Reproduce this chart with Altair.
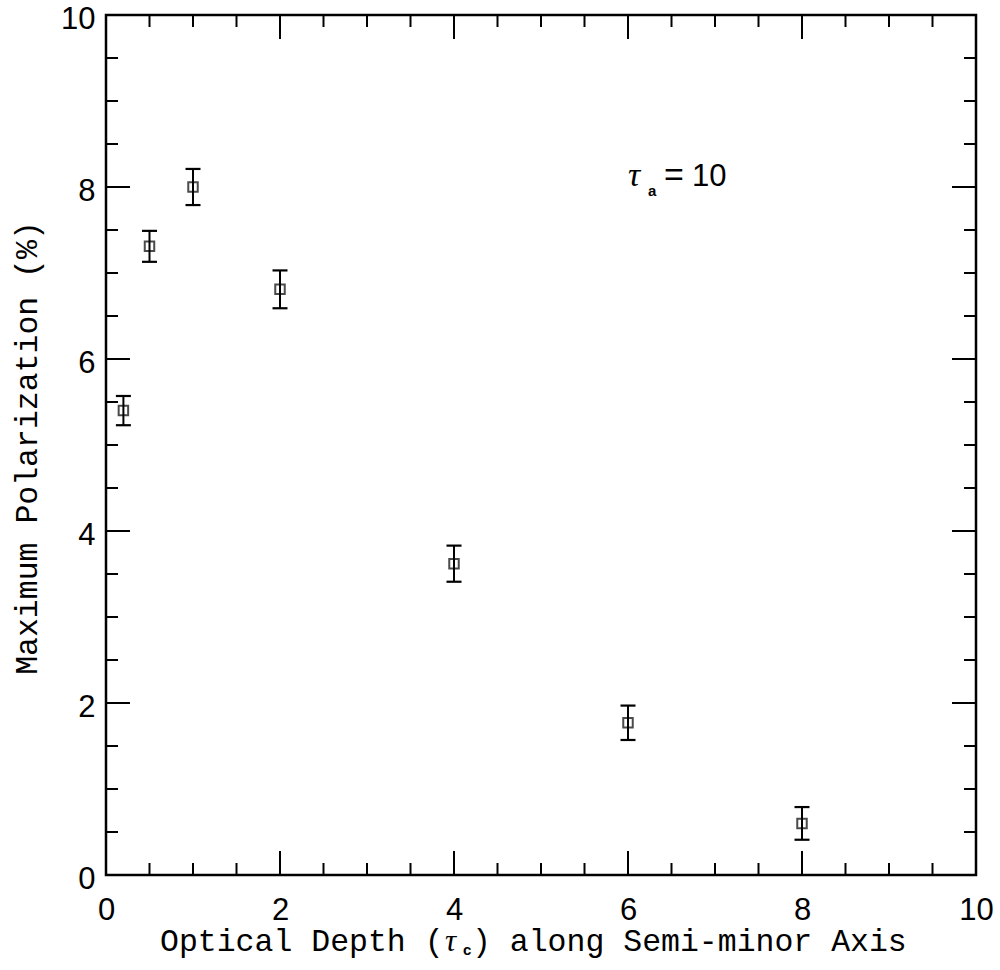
import altair as alt
import pandas as pd

# ---- data ----
tau_c = [0.2, 0.5, 1.0, 2.0, 4.0, 6.0, 8.0]
pol_max = [5.40, 7.31, 8.00, 6.81, 3.62, 1.77, 0.60]
pol_err = [0.17, 0.18, 0.21, 0.22, 0.21, 0.20, 0.19]

major_ticks = [0, 2, 4, 6, 8, 10]
minor_ticks = [0.5, 1, 1.5, 2.5, 3, 3.5, 4.5, 5, 5.5, 6.5, 7, 7.5, 8.5, 9, 9.5]

x_title_1 = "Optical Depth ("
x_title_tau = "τ"
x_title_sub = "c"
x_title_2 = ") along Semi-minor Axis"
y_title = "Maximum Polarization (%)"
ann_tau = "τ"
ann_sub = "a"
ann_eq = "="
ann_val = "10"
ann_x = [6.0]
ann_y = [8.0]

W, H = 870, 860
MONO = "Liberation Mono"
SANS = "Liberation Sans"
SERIF = "Liberation Serif"

df = pd.DataFrame({
    "x": tau_c,
    "y": pol_max,
    "lo": [v - e for v, e in zip(pol_max, pol_err)],
    "hi": [v + e for v, e in zip(pol_max, pol_err)],
})

xs = alt.Scale(domain=[0, 10], nice=False, zero=False)
ys = alt.Scale(domain=[0, 10], nice=False, zero=False)
xaxis = alt.Axis(values=major_ticks, ticks=False, domain=False, grid=False, title=None,
                 labelFont=SANS, labelFontSize=31, labelColor="black", labelPadding=20,
                 labelFlush=False, labelOverlap=False, format="d")
yaxis = alt.Axis(values=major_ticks, ticks=False, domain=False, grid=False, title=None,
                 labelFont=SANS, labelFontSize=31, labelColor="black", labelPadding=11,
                 labelOffset=4, labelFlush=False, labelOverlap=False, format="d")


def X(f="x"):
    return alt.X(f, type="quantitative", scale=xs, axis=xaxis)


def Y(f="y"):
    return alt.Y(f, type="quantitative", scale=ys, axis=yaxis)


base = alt.Chart(df)
points = base.mark_point(shape="square", filled=False, size=90, strokeWidth=2, color="black").encode(
    x=X(), y=Y())
bars = base.mark_rule(color="black", strokeWidth=2).encode(x=X(), y=Y("lo"), y2="hi")
cap_lo = base.mark_rule(color="black", strokeWidth=2.2, xOffset=-7.5, x2Offset=7.5).encode(
    x=X(), x2="x", y=Y("lo"))
cap_hi = base.mark_rule(color="black", strokeWidth=2.2, xOffset=-7.5, x2Offset=7.5).encode(
    x=X(), x2="x", y=Y("hi"))

layers = [bars, cap_lo, cap_hi, points]

# inward ticks on all four sides
for vals, ln in ((major_ticks, 24), (minor_ticks, 12)):
    td = alt.Chart(pd.DataFrame({"x": vals, "y": vals}))
    layers.append(td.mark_rule(color="black", strokeWidth=2).encode(
        x=X(), y=alt.value(H), y2=alt.value(H - ln)))
    layers.append(td.mark_rule(color="black", strokeWidth=2).encode(
        x=X(), y=alt.value(0), y2=alt.value(ln)))
    layers.append(td.mark_rule(color="black", strokeWidth=2).encode(
        y=Y(), x=alt.value(0), x2=alt.value(ln)))
    layers.append(td.mark_rule(color="black", strokeWidth=2).encode(
        y=Y(), x=alt.value(W), x2=alt.value(W - ln)))

# annotation tau_a = 10
ad = alt.Chart(pd.DataFrame({"x": ann_x, "y": ann_y}))
layers.append(ad.mark_text(font=SERIF, fontStyle="italic", fontSize=34, align="left",
                           baseline="alphabetic", dy=-1, color="black").encode(
    x=X(), y=Y(), text=alt.value(ann_tau)))
layers.append(ad.mark_text(font=SANS, fontWeight="bold", fontSize=15, align="left",
                           baseline="alphabetic", dx=20, dy=9, color="black").encode(
    x=X(), y=Y(), text=alt.value(ann_sub)))
layers.append(ad.mark_text(font=SANS, fontSize=34, align="center",
                           baseline="alphabetic", dx=46, dy=-1, color="black").encode(
    x=X(), y=Y(), text=alt.value(ann_eq)))
layers.append(ad.mark_text(font=SANS, fontSize=31, align="left",
                           baseline="alphabetic", dx=64, dy=-1, color="black").encode(
    x=X(), y=Y(), text=alt.value(ann_val)))

# axis titles as text
TY = 936
one = alt.Chart(pd.DataFrame({"k": [0]}))
layers.append(one.mark_text(font=MONO, fontSize=31.5, align="left", baseline="alphabetic",
                            color="black").encode(
    x=alt.value(54), y=alt.value(TY), text=alt.value(x_title_1)))
layers.append(one.mark_text(font=SERIF, fontStyle="italic", fontSize=31, align="left",
                            baseline="alphabetic", color="black").encode(
    x=alt.value(339), y=alt.value(TY), text=alt.value(x_title_tau)))
layers.append(one.mark_text(font=SANS, fontWeight="bold", fontSize=15, align="left",
                            baseline="alphabetic", color="black").encode(
    x=alt.value(357), y=alt.value(TY + 4), text=alt.value(x_title_sub)))
layers.append(one.mark_text(font=MONO, fontSize=31.5, align="left", baseline="alphabetic",
                            color="black").encode(
    x=alt.value(366), y=alt.value(TY), text=alt.value(x_title_2)))
layers.append(one.mark_text(font=MONO, fontSize=31.5, align="center", baseline="middle",
                            angle=270, color="black").encode(
    x=alt.value(-78), y=alt.value(433), text=alt.value(y_title)))

chart = alt.layer(*layers).properties(
    width=W, height=H,
    autosize=alt.AutoSizeParams(type="none"),
    padding={"left": 106, "top": 15, "right": 24, "bottom": 95},
    background="white",
).configure_view(stroke="black", strokeWidth=2.5)

chart.save("out.html", embed_options={"renderer": "svg", "actions": False})
